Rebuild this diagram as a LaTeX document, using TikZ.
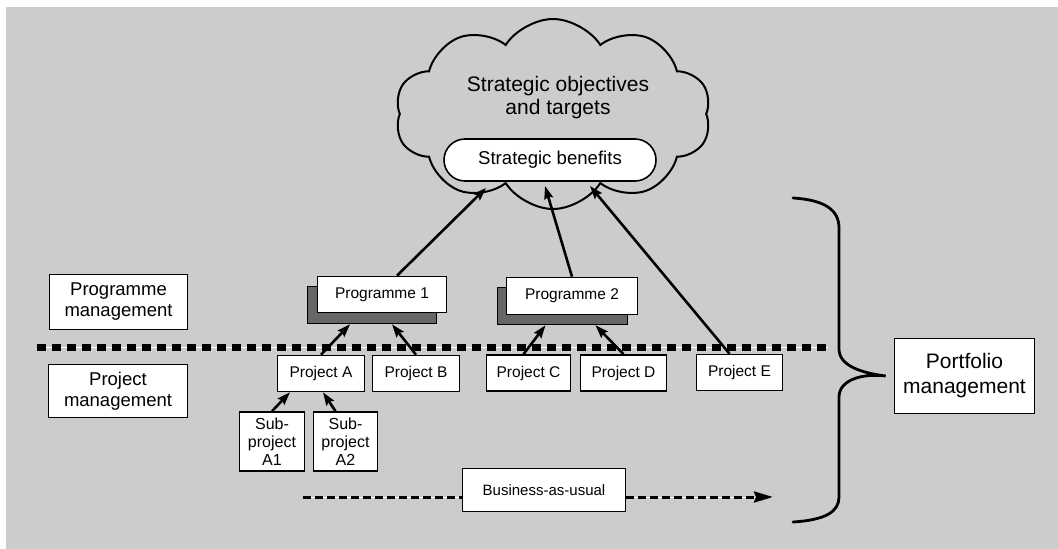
\documentclass[tikz,border=0pt]{standalone}
\usepackage{fontspec}
\setmainfont{Liberation Sans}
\usetikzlibrary{shapes.symbols,arrows.meta}
\definecolor{panelgray}{HTML}{CCCCCC}
\definecolor{shadowgray}{HTML}{666666}

\begin{document}
\begin{tikzpicture}[x=1pt,y=-1pt,
  box/.style={draw=black, fill=white, line width=1.6pt, inner sep=0pt, align=center},
  lbl/.style={box, font=\fontsize{18.5}{21}\selectfont},
  proj/.style={box, font=\fontsize{15.5}{18}\selectfont, minimum height=36pt},
  subproj/.style={box, font=\fontsize{16}{18}\selectfont, minimum height=59pt},
  shadowbox/.style={draw=black, fill=shadowgray, line width=1.6pt, inner sep=0pt},
  link/.style={line width=2.6pt, -{Stealth[length=13pt,width=9pt,inset=2pt]}},
  sepline/.style={line width=7pt, dash pattern=on 9pt off 6pt},
  flowline/.style={line width=3pt, dash pattern=on 8pt off 4pt},
]
\useasboundingbox (0,0) rectangle (1058,549);
\fill[panelgray] (6,7) rectangle (1058,549);

% cloud of strategic objectives
\node[cloud, cloud puffs=10, cloud puff arc=115, cloud ignores aspect, draw=black,
      line width=2pt, minimum width=316pt, minimum height=190pt, inner sep=0pt]
      (cl) at (553,114) {};
\node[font=\fontsize{21}{23}\selectfont, align=center] (obj) at (558,97.5)
      {Strategic objectives\\and targets};
\node[box, rounded corners=21pt, minimum width=212pt, minimum height=42pt,
      font=\fontsize{18.6}{21}\selectfont] (sb) at (550,160) {Strategic benefits};

% separator between programme and project level
\coordinate (sepL) at (37,347);
\coordinate (sepR) at (828,347);
\draw[white, line width=1pt] (sepL) -- (sepR);
\draw[sepline] (sepL) -- (sepR);

% business-as-usual flow (white core first)
\coordinate (bauStart) at (303,497);
\coordinate (bauEnd) at (773,497);
\draw[white, line width=0.8pt] (bauStart) -- (bauEnd);

% level labels
\node[lbl, minimum width=138pt, minimum height=55pt] (pm) at (118.5,302)
      {Programme\\management};
\node[lbl, minimum width=139pt, minimum height=53pt] (jm) at (118,391)
      {Project\\management};

% programmes with shadow boxes
\node[shadowbox, minimum width=129pt, minimum height=37pt] (p1s) at (372,305) {};
\node[box, minimum width=129pt, minimum height=36pt,
      font=\fontsize{15.5}{18}\selectfont] (p1) at (382,294.5) {Programme 1};
\node[shadowbox, minimum width=130pt, minimum height=37pt] (p2s) at (562.5,306) {};
\node[box, minimum width=131pt, minimum height=37pt,
      font=\fontsize{15.5}{18}\selectfont] (p2) at (572,296) {Programme 2};

% projects
\node[proj, minimum width=87pt] (pA) at (321,373.5) {Project A};
\node[proj, minimum width=87pt] (pB) at (416,373.5) {Project B};
\node[proj, minimum width=84pt] (pC) at (528.5,373) {Project C};
\node[proj, minimum width=86pt] (pD) at (623.5,373) {Project D};
\node[proj, minimum width=86pt] (pE) at (739.5,372.5) {Project E};

% sub-projects
\node[subproj, minimum width=65pt] (sA1) at (272,441.5) {Sub-\\project\\A1};
\node[subproj, minimum width=64pt] (sA2) at (345.5,441.5) {Sub-\\project\\A2};

% business as usual
\node[box, minimum width=163pt, minimum height=43pt,
      font=\fontsize{15}{18}\selectfont] (bau) at (544,490) {Business-as-usual};
\draw[flowline] (bauStart) -- ([yshift=-7pt]bau.west);
\draw[flowline, -{Stealth[length=19pt,width=11pt,inset=2pt]}]
      ([yshift=-7pt]bau.east) -- (bauEnd);

% portfolio
\node[box, minimum width=140pt, minimum height=75pt,
      font=\fontsize{21}{25}\selectfont] (port) at (964.5,376) {Portfolio\\management};

% contributions up the hierarchy
\coordinate (t1) at (486,188);
\coordinate (t2) at (545,186);
\coordinate (t3) at (590,186);
\draw[link] ([xshift=15pt]p1.north) -- (t1);
\draw[link] (p2.north) -- (t2);
\draw[link] ([xshift=-10pt]pE.north) -- (t3);
\draw[link] (pA.north) -- ([xshift=-22pt]p1s.south);
\draw[link] (pB.north) -- ([xshift=20pt]p1s.south);
\draw[link] ([xshift=-5pt]pC.north) -- ([xshift=-17pt]p2s.south);
\draw[link] (pD.north) -- ([xshift=33pt]p2s.south);
\draw[link] (sA1.north) -- ([xshift=-31pt]pA.south);
\draw[link] ([xshift=-10pt]sA2.north) -- ([xshift=2pt]pA.south);

% brace gathering everything into portfolio management
\coordinate (braceTip) at ([xshift=-8pt]port.west);
\draw[line width=2.8pt, line cap=round]
  (793,198) .. controls (825,200) and (839,210) .. (839,228)
  -- (839,349) .. controls (839,366) and (862,373) .. (braceTip)
  .. controls (862,373) and (839,380) .. (839,397)
  -- (839,497) .. controls (839,512) and (825,520) .. (793,522);
\end{tikzpicture}
\end{document}
